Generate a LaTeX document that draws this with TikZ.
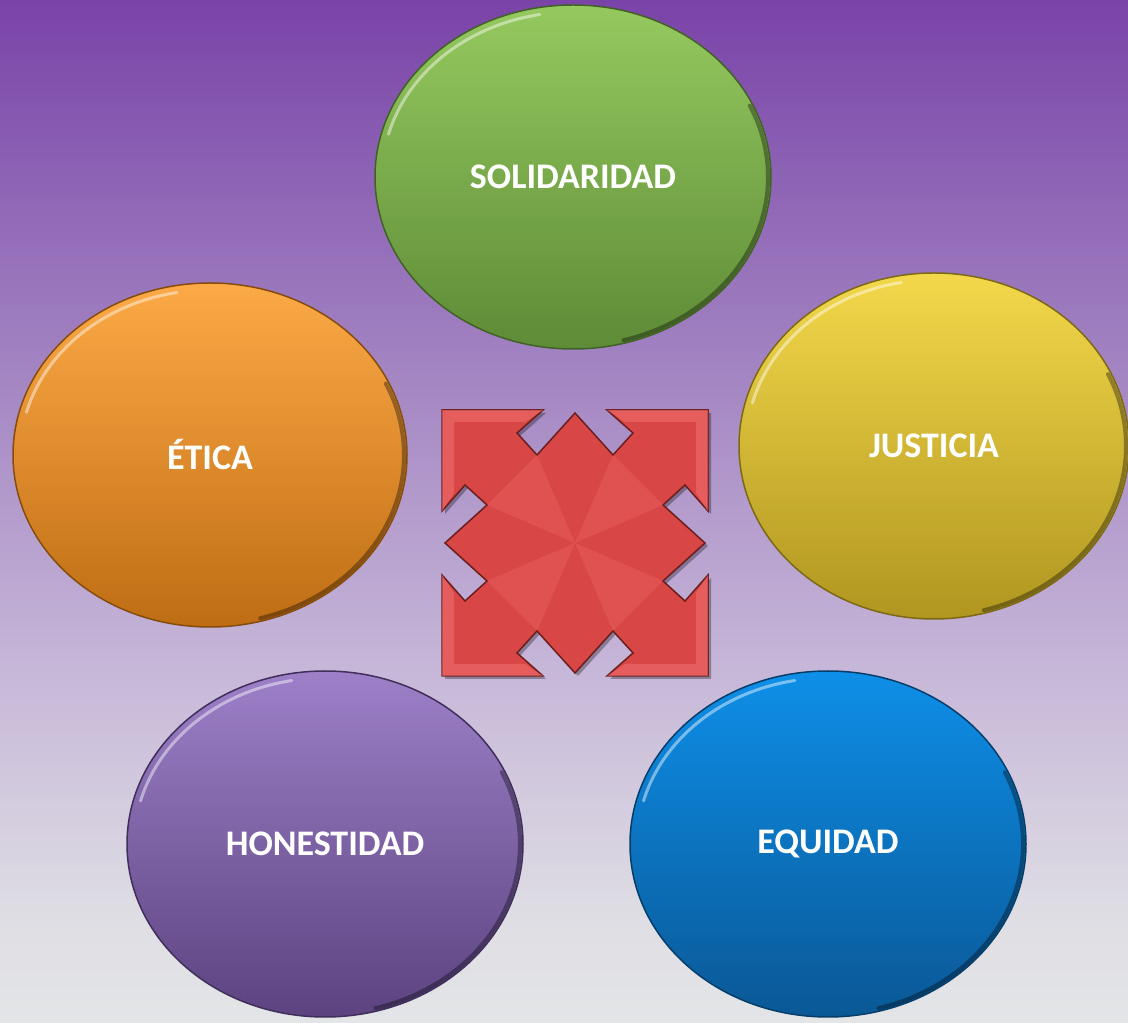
\documentclass[tikz,border=0pt]{standalone}
\usepackage{fontspec}
\setmainfont{Carlito}
\usetikzlibrary{shapes.geometric}
\definecolor{bg0}{HTML}{E3E5E7}
\definecolor{bg1}{HTML}{DFDEE4}
\definecolor{bg2}{HTML}{C6B6D8}
\definecolor{bg3}{HTML}{A88BC5}
\definecolor{bg4}{HTML}{8A5FB3}
\definecolor{bg5}{HTML}{7A43A8}
\definecolor{gTop}{HTML}{95C95F}\definecolor{gBot}{HTML}{5E8B37}
\definecolor{oTop}{HTML}{FCAA47}\definecolor{oBot}{HTML}{BF6D13}
\definecolor{yTop}{HTML}{F3D84B}\definecolor{yBot}{HTML}{B0961F}
\definecolor{pTop}{HTML}{9D80C8}\definecolor{pBot}{HTML}{5C4380}
\definecolor{bTop}{HTML}{0E8FE8}\definecolor{bBot}{HTML}{0A5896}
\definecolor{arrRed}{HTML}{D94646}
\definecolor{arrEdge}{HTML}{6B1E1E}
\definecolor{arrLight}{HTML}{F27070}
\pgfdeclareverticalshading{bgshade}{100bp}{color(0bp)=(bg0); color(25bp)=(bg0); color(30bp)=(bg1); color(42.5bp)=(bg2); color(55bp)=(bg3); color(67.5bp)=(bg4); color(75bp)=(bg5); color(100bp)=(bg5)}
\tikzset{
  bubble/.style={ellipse, inner sep=0pt, text=white,
    font=\fontsize{36}{42}\selectfont\bfseries, line width=1.5pt},
  hilite/.style={white, opacity=0.45, line width=3pt, line cap=round},
  rimshade/.style={black, opacity=0.35, line width=4pt, line cap=round},
  arrowbody/.style={fill=arrRed, draw=arrEdge, line width=1.5pt, line join=miter},
  arrowshadow/.style={fill=black, opacity=0.3},
  facet/.style={fill=arrLight, opacity=0.55},
}
\newcommand\bubble[8]{%
  \node[bubble, top color=#7, bottom color=#8, draw=#8!70!black,
        minimum width=2*#4, minimum height=2*#5] (#1) at (#2,#3) {#6};
  \draw[rimshade] (#1.center) ++(-75:#4-3 and #5-3)
     arc[start angle=-75, end angle=25, x radius=#4-3, y radius=#5-3];
  \draw[hilite] (#1.center) ++(100:#4-7 and #5-7)
     arc[start angle=100, end angle=165, x radius=#4-7, y radius=#5-7];
}
\newcommand\quadarrowpath[1]{%
  \path[#1] (0,130) -- (38,88) -- (58,110) -- (32,133) -- (133,133) -- (133,32)
    -- (110,58) -- (88,38) -- (130,0) -- (88,-38) -- (110,-58) -- (133,-32)
    -- (133,-133) -- (32,-133) -- (58,-110) -- (38,-88) -- (0,-130)
    -- (-38,-88) -- (-58,-110) -- (-32,-133) -- (-133,-133) -- (-133,-32)
    -- (-110,-58) -- (-88,-38) -- (-130,0) -- (-88,38) -- (-110,58)
    -- (-133,32) -- (-133,133) -- (-32,133) -- (-58,110) -- (-38,88) -- cycle;}
\begin{document}
\begin{tikzpicture}[x=1pt,y=1pt]
\useasboundingbox (0,0) rectangle (1128,1023);
\path[shading=bgshade] (0,0) rectangle (1128,1023);

\bubble{sol}{573}{846}{198}{172}{SOLIDARIDAD}{gTop}{gBot}
\bubble{eti}{210}{568}{197}{172}{ÉTICA}{oTop}{oBot}
\bubble{jus}{934}{577}{195}{173}{JUSTICIA}{yTop}{yBot}
\bubble{hon}{325}{179}{198}{173}{HONESTIDAD}{pTop}{pBot}
\bubble{equ}{828}{179}{198}{173}{EQUIDAD}{bTop}{bBot}

\begin{scope}[shift={(575,480)}]
  \begin{scope}[shift={(3,-3)}]
    \quadarrowpath{arrowshadow}
  \end{scope}
  \quadarrowpath{arrowbody}
  \foreach \a in {0,90,180,270}{
    \begin{scope}[rotate=\a]
      \fill[facet] (32,133) -- (133,133) -- (133,32) -- (121,50) -- (121,121) -- (50,121) -- cycle;
      \fill[facet, opacity=0.3] (38,88) -- (88,38) -- (0,0) -- cycle;
    \end{scope}
  }
\end{scope}
\end{tikzpicture}
\end{document}
